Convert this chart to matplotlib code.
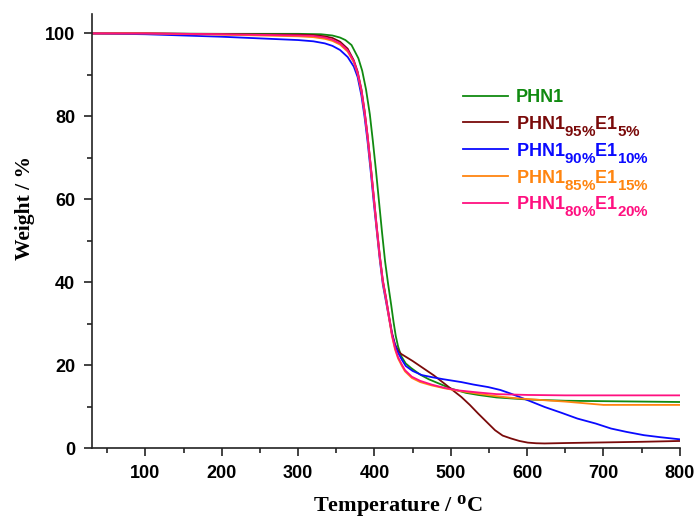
import matplotlib
matplotlib.use("Agg")
import matplotlib.pyplot as plt
import matplotlib._mathtext as mt
from matplotlib.ticker import MultipleLocator

plt.rcParams["mathtext.fontset"] = "custom"
plt.rcParams["mathtext.bf"] = "Liberation Sans:bold"
plt.rcParams["mathtext.it"] = "Liberation Serif:bold"
# legend subscripts are only a bit smaller than the text and sit lower
mt.SHRINK_FACTOR = 0.84
mt.FontConstantsBase.sub1 = 0.85

# PHN1
t_phn1 = [30, 100, 200, 300, 330, 345, 355, 362, 370, 379, 384, 389, 394, 398, 402, 406,
          410, 414, 418, 422, 425, 428, 431, 435, 441, 448, 460, 471, 484, 501, 520, 536,
          560, 601, 650, 700, 800]
w_phn1 = [100, 100, 99.9, 99.9, 99.8, 99.5, 99.0, 98.4, 97.2, 94, 91, 86.5, 80.5, 74, 67,
          59.5, 52, 45, 39.5, 34.5, 30.5, 27, 24.5, 22.2, 20.4, 19.3, 17.7, 16.6, 15.6, 14.3,
          13.3, 12.8, 12.2, 11.7, 11.4, 11.3, 11.1]

# PHN1 95% / E1 5%
t_e5 = [30, 100, 200, 300, 320, 335, 345, 355, 365, 373, 378, 383, 387, 391, 395, 399, 403,
        407, 411, 415, 419, 423, 427, 431, 435, 450, 462, 478, 492, 505, 514, 525, 536, 547,
        558, 568, 579, 590, 601, 612, 623, 650, 700, 750, 800]
w_e5 = [100, 100, 99.8, 99.7, 99.6, 99.3, 98.9, 98.0, 96.3, 93.5, 90.8, 86.5, 81.5, 75.5,
        68.5, 61, 53.5, 46.5, 40.5, 36.5, 32, 27.8, 25, 23.5, 22.7, 21.0, 19.5, 17.5, 15.5,
        13.6, 12.3, 10.4, 8.3, 6.3, 4.3, 3.0, 2.3, 1.7, 1.3, 1.15, 1.1, 1.2, 1.35, 1.5, 1.7]

# PHN1 90% / E1 10%
t_e10 = [30, 100, 150, 200, 250, 300, 320, 335, 345, 355, 365, 373, 378, 383, 387, 391, 395,
         399, 403, 407, 411, 415, 419, 423, 427, 431, 436, 441, 450, 462, 475, 490, 514, 530,
         549, 565, 579, 600, 623, 645, 666, 690, 710, 730, 753, 775, 800]
w_e10 = [100, 99.8, 99.5, 99.2, 98.8, 98.4, 98.1, 97.6, 97.0, 96.0, 94.3, 92, 89.5, 85, 80,
         74, 67, 59.5, 52.5, 45.5, 39.5, 35.5, 31.5, 27.5, 24.8, 23, 21.3, 19.8, 18.6, 17.6,
         17.1, 16.6, 15.9, 15.3, 14.7, 14.0, 13.1, 11.6, 9.9, 8.5, 7.1, 5.9, 4.7, 3.9, 3.1,
         2.6, 2.1]

# PHN1 85% / E1 15%
t_e15 = [30, 100, 200, 300, 320, 335, 345, 355, 365, 373, 378, 383, 387, 391, 395, 399, 403,
         407, 411, 415, 419, 423, 427, 431, 436, 440, 449, 460, 475, 492, 510, 536, 560, 580,
         601, 625, 650, 675, 700, 750, 800]
w_e15 = [100, 100, 99.7, 99.3, 99.1, 98.7, 98.2, 97.3, 95.6, 93, 90.3, 86, 81, 75, 68, 60.5,
         53, 46, 40, 36, 31.5, 27, 23.8, 21.6, 19.8, 18.5, 16.9, 15.9, 15.1, 14.4, 13.8, 13.1,
         12.5, 12.1, 11.8, 11.5, 11.2, 10.8, 10.4, 10.4, 10.4]

# PHN1 80% / E1 20%
t_e20 = [30, 100, 200, 300, 320, 335, 345, 355, 365, 373, 378, 383, 387, 391, 395, 399, 403,
         407, 411, 415, 419, 423, 427, 431, 436, 440, 449, 460, 475, 492, 510, 536, 560, 601,
         650, 700, 800]
w_e20 = [100, 100, 99.8, 99.5, 99.4, 99.0, 98.5, 97.6, 95.9, 93.3, 90.5, 86.3, 81.3, 75.3,
         68.3, 60.8, 53.3, 46.3, 40.3, 36.3, 31.8, 27.3, 24.1, 21.9, 20.1, 18.8, 17.2, 16.2,
         15.3, 14.5, 13.9, 13.4, 13.0, 12.8, 12.7, 12.7, 12.7]

SERIES = [(t_phn1, w_phn1, "#108a10", r"PHN1"),
          (t_e5, w_e5, "#7a0a0a", r"PHN1$_{\mathbf{95\%}}$E1$_{\mathbf{5\%}}$"),
          (t_e10, w_e10, "#0a0aff", r"PHN1$_{\mathbf{90\%}}$E1$_{\mathbf{10\%}}$"),
          (t_e15, w_e15, "#ff8510", r"PHN1$_{\mathbf{85\%}}$E1$_{\mathbf{15\%}}$"),
          (t_e20, w_e20, "#ff1080", r"PHN1$_{\mathbf{80\%}}$E1$_{\mathbf{20\%}}$")]

fig = plt.figure(figsize=(6.98, 5.18), dpi=100)
ax = fig.add_axes([0.1318, 0.1351, 0.842, 0.838])

for t, w, col, lab in SERIES:
    ax.plot(t, w, color=col, lw=1.3, label=lab)

ax.set_xlim(30, 800)
ax.set_ylim(0, 104.7)
ax.xaxis.set_major_locator(MultipleLocator(100))
ax.xaxis.set_minor_locator(MultipleLocator(50))
ax.yaxis.set_major_locator(MultipleLocator(20))
ax.yaxis.set_minor_locator(MultipleLocator(10))
for s in ("top", "right"):
    ax.spines[s].set_visible(False)
for s in ("left", "bottom"):
    ax.spines[s].set_linewidth(1.2)
    ax.spines[s].set_color("#222")
ax.tick_params(which="major", direction="out", length=6, width=1.2, color="#222",
               labelsize=13, pad=6)
ax.tick_params(which="minor", direction="out", length=3.5, width=1.2, color="#222")
for lb in ax.get_xticklabels() + ax.get_yticklabels():
    lb.set_family("Liberation Sans")
    lb.set_fontweight("bold")

ax.set_xlabel(r"Temperature / $^{\mathit{o}}$C", family="Liberation Serif",
              fontweight="bold", fontsize=16)
ax.xaxis.set_label_coords(0.52, -0.104)
ax.set_ylabel("Weight / %", family="Liberation Serif", fontweight="bold", fontsize=15.5)
ax.yaxis.set_label_coords(-0.097, 0.553)

# hand-made legend: evenly spaced rows, line aligned with the main text
x_line0, x_line1, x_txt = 0.631, 0.707, 0.721
y_row0, dy = 0.812, 0.0619
for i, (_, _, col, lab) in enumerate(SERIES):
    y = y_row0 - i * dy
    ax.plot([x_line0, x_line1], [y, y], color=col, lw=1.3, transform=ax.transAxes)
    ax.text(x_txt, y - 0.0155, lab, color=col, transform=ax.transAxes, va="baseline",
            ha="left", family="Liberation Sans", fontweight="bold", fontsize=13)

fig.savefig("out.png", dpi=100)
